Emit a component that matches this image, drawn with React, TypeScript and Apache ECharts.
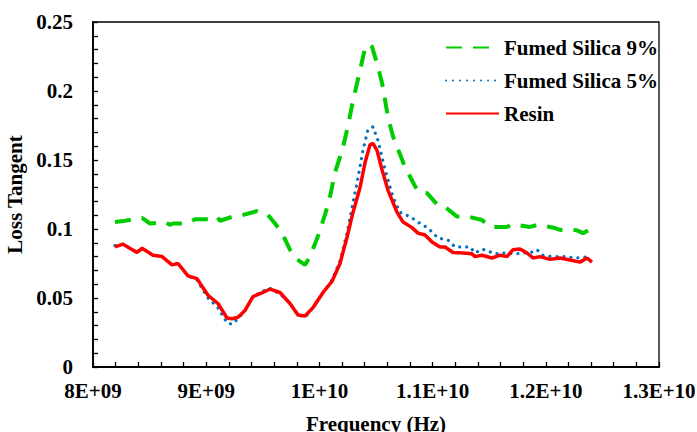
import React, { useEffect, useRef } from "react";
import * as echarts from "echarts";

// Frequency (GHz) and loss tangent for each series
const silica9Freq = [8.194, 8.283, 8.433, 8.504, 8.636, 8.68, 8.707, 8.83, 8.901, 9.034, 9.095, 9.122, 9.237, 9.316, 9.449, 9.537, 9.608, 9.67, 9.74, 9.784, 9.873, 9.917, 9.988, 10.032, 10.085, 10.138, 10.208, 10.253, 10.297, 10.359, 10.403, 10.438, 10.465, 10.509, 10.553, 10.606, 10.65, 10.756, 10.8, 10.871, 10.951, 11.048, 11.11, 11.216, 11.313, 11.436, 11.507, 11.657, 11.71, 11.86, 11.931, 12.081, 12.125, 12.187, 12.276, 12.329, 12.373];
const silica9Val = [0.105, 0.106, 0.108, 0.104, 0.105, 0.103, 0.104, 0.104, 0.107, 0.107, 0.109, 0.106, 0.109, 0.11, 0.113, 0.111, 0.104, 0.097, 0.085, 0.079, 0.074, 0.08, 0.095, 0.106, 0.12, 0.141, 0.159, 0.175, 0.193, 0.215, 0.231, 0.234, 0.232, 0.22, 0.206, 0.181, 0.167, 0.145, 0.138, 0.127, 0.126, 0.117, 0.116, 0.109, 0.109, 0.1065, 0.1015, 0.1015, 0.1035, 0.1015, 0.103, 0.1007, 0.0993, 0.1, 0.099, 0.097, 0.099];

const silica5Freq = [8.194, 8.265, 8.389, 8.433, 8.53, 8.61, 8.698, 8.751, 8.839, 8.919, 9.016, 9.104, 9.184, 9.228, 9.281, 9.343, 9.413, 9.502, 9.564, 9.652, 9.74, 9.811, 9.873, 9.943, 10.032, 10.111, 10.182, 10.244, 10.297, 10.341, 10.385, 10.429, 10.473, 10.518, 10.58, 10.65, 10.712, 10.8, 10.889, 10.959, 11.048, 11.136, 11.198, 11.33, 11.375, 11.436, 11.489, 11.551, 11.622, 11.728, 11.79, 11.86, 11.922, 11.975, 12.055, 12.152, 12.276, 12.39];
const silica5Val = [0.088, 0.089, 0.083, 0.086, 0.081, 0.08, 0.074, 0.075, 0.066, 0.063, 0.05, 0.043, 0.032, 0.031, 0.035, 0.041, 0.051, 0.055, 0.057, 0.053, 0.046, 0.038, 0.036, 0.043, 0.054, 0.063, 0.077, 0.097, 0.119, 0.137, 0.157, 0.172, 0.174, 0.164, 0.143, 0.123, 0.112, 0.109, 0.104, 0.1007, 0.0935, 0.092, 0.087, 0.087, 0.0826, 0.0855, 0.084, 0.082, 0.0826, 0.082, 0.0826, 0.0826, 0.085, 0.081, 0.08, 0.08, 0.079, 0.08];

const resinFreq = [8.194, 8.265, 8.389, 8.433, 8.53, 8.61, 8.698, 8.751, 8.839, 8.919, 9.016, 9.104, 9.184, 9.228, 9.281, 9.343, 9.413, 9.502, 9.564, 9.652, 9.74, 9.811, 9.873, 9.943, 10.032, 10.111, 10.182, 10.244, 10.297, 10.359, 10.403, 10.447, 10.473, 10.509, 10.553, 10.606, 10.686, 10.739, 10.818, 10.871, 10.933, 10.995, 11.065, 11.11, 11.18, 11.269, 11.348, 11.375, 11.436, 11.525, 11.595, 11.657, 11.71, 11.772, 11.834, 11.887, 11.949, 12.037, 12.125, 12.214, 12.302, 12.364, 12.408];
const resinVal = [0.087, 0.089, 0.083, 0.086, 0.081, 0.08, 0.074, 0.075, 0.066, 0.064, 0.052, 0.046, 0.0355, 0.035, 0.036, 0.041, 0.051, 0.054, 0.0565, 0.054, 0.046, 0.0377, 0.037, 0.043, 0.054, 0.062, 0.075, 0.094, 0.112, 0.13, 0.148, 0.161, 0.162, 0.157, 0.143, 0.128, 0.112, 0.105, 0.101, 0.097, 0.0957, 0.0906, 0.087, 0.087, 0.083, 0.0826, 0.082, 0.08, 0.081, 0.079, 0.081, 0.08, 0.085, 0.0855, 0.0826, 0.079, 0.08, 0.078, 0.079, 0.0775, 0.076, 0.079, 0.076];

const xTickLabels = ["8E+09", "9E+09", "1E+10", "1.1E+10", "1.2E+10", "1.3E+10"];
const seriesNames = ["Fumed Silica 9%", "Fumed Silica 5%", "Resin"];

const FONT = "Liberation Serif";

const pairs = (f: number[], v: number[]) => f.map((x, i) => [x * 1e9, v[i]]);

export default function App() {
  const ref = useRef<HTMLDivElement>(null);
  useEffect(() => {
    if (!ref.current) return;
    const chart = echarts.init(ref.current, undefined, { renderer: "svg" });
    const tickStyle = { show: true, inside: true, length: 5, lineStyle: { color: "#000", width: 1.3 } };
    const txt = { fontFamily: FONT, fontWeight: "bold", fontSize: 21, color: "#000" };
    chart.setOption({
      animation: false,
      backgroundColor: "#fff",
      grid: {
        left: 93,
        right: 38,
        top: 22,
        bottom: 65,
        containLabel: false,
        outerBoundsMode: "none",
        show: true,
        borderColor: "#000",
        borderWidth: 1.3,
        backgroundColor: "transparent",
      },
      legend: {
        orient: "vertical",
        left: 440,
        top: 32,
        itemWidth: 53,
        itemHeight: 14,
        itemGap: 12,
        data: seriesNames,
        itemStyle: { opacity: 0 },
        textStyle: { ...txt },
      },
      xAxis: {
        type: "value",
        min: 8e9,
        max: 1.3e10,
        interval: 1e9,
        name: "Frequency (Hz)",
        nameLocation: "middle",
        nameGap: 46,
        nameTextStyle: { ...txt },
        axisLine: { show: true, lineStyle: { color: "#000", width: 1.8 } },
        axisTick: tickStyle,
        minorTick: { ...tickStyle, splitNumber: 5 },
        splitLine: { show: false },
        minorSplitLine: { show: false },
        axisLabel: {
          ...txt,
          margin: 13,
          formatter: (v: number) => xTickLabels[Math.round((v - 8e9) / 1e9)] ?? "",
        },
      },
      yAxis: {
        type: "value",
        min: 0,
        max: 0.25,
        interval: 0.05,
        name: "Loss Tangent",
        nameLocation: "middle",
        nameGap: 63,
        nameTextStyle: { ...txt },
        axisLine: { show: true, lineStyle: { color: "#000", width: 1.8 } },
        axisTick: tickStyle,
        minorTick: { ...tickStyle, splitNumber: 5 },
        splitLine: { show: false },
        minorSplitLine: { show: false },
        axisLabel: { ...txt, margin: 20 },
      },
      series: [
        {
          name: seriesNames[0],
          type: "line",
          data: pairs(silica9Freq, silica9Val),
          showSymbol: false,
          symbol: "none",
          lineStyle: { color: "#00CC00", width: 4, type: [16, 11] },
          itemStyle: { color: "#00CC00" },
        },
        {
          name: seriesNames[1],
          type: "line",
          data: pairs(silica5Freq, silica5Val),
          showSymbol: false,
          symbol: "none",
          lineStyle: { color: "#0070C0", width: 3.2, type: [0.01, 7], cap: "round" },
          itemStyle: { color: "#0070C0" },
        },
        {
          name: seriesNames[2],
          type: "line",
          data: pairs(resinFreq, resinVal),
          showSymbol: false,
          symbol: "none",
          lineStyle: { color: "#FF0000", width: 3.5 },
          itemStyle: { color: "#FF0000" },
        },
      ],
    });
    return () => chart.dispose();
  }, []);
  return <div ref={ref} style={{ position: "fixed", left: 0, top: 0, width: 697, height: 432 }} />;
}
